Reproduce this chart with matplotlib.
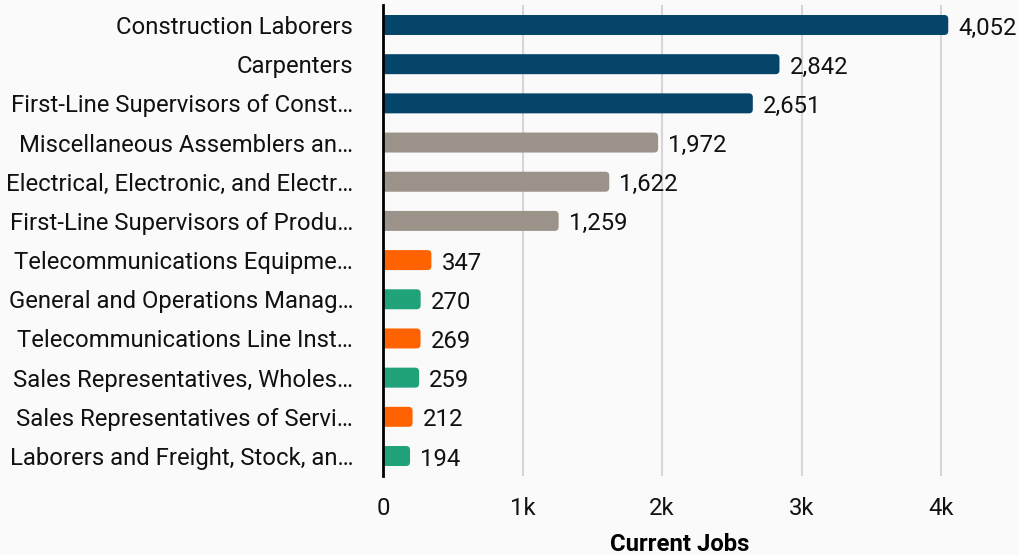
import matplotlib
matplotlib.use("Agg")
import matplotlib.pyplot as plt
from matplotlib.patches import FancyBboxPatch
from matplotlib.transforms import ScaledTranslation

categories = [
    "Construction Laborers",
    "Carpenters",
    "First-Line Supervisors of Const…",
    "Miscellaneous Assemblers an…",
    "Electrical, Electronic, and Electr…",
    "First-Line Supervisors of Produ…",
    "Telecommunications Equipme…",
    "General and Operations Manag…",
    "Telecommunications Line Inst…",
    "Sales Representatives, Wholes…",
    "Sales Representatives of Servi…",
    "Laborers and Freight, Stock, an…",
]
values = [4052, 2842, 2651, 1972, 1622, 1259, 347, 270, 269, 259, 212, 194]
groups = ["a", "a", "a", "b", "b", "b", "c", "d", "c", "d", "c", "d"]
palette = {"a": "#05456A", "b": "#9B928A", "c": "#FF6200", "d": "#20A27A"}
xticks = [0, 1000, 2000, 3000, 4000]
xticklabels = ["0", "1k", "2k", "3k", "4k"]

plt.rcParams["font.family"] = ["Roboto", "DejaVu Sans"]
bg = "#FAFAFA"
fs = 17.2

W, H = 1018, 555
fig = plt.figure(figsize=(W / 100, H / 100), dpi=100, facecolor=bg)
left_px, right_px, top_px, bottom_px = 383, 977, 5.4, 475.6
ax = fig.add_axes([left_px / W, 1 - bottom_px / H,
                   (right_px - left_px) / W, (bottom_px - top_px) / H])
ax.set_facecolor(bg)

px_per_k = 139.5
xmax = (right_px - left_px) / px_per_k * 1000
ax.set_xlim(0, xmax)
n = len(categories)
ax.set_ylim(n - 0.5, -0.5)

# pixel-to-data conversions for rounded bar ends
x_per_px = 1000 / px_per_k
y_per_px = n / (bottom_px - top_px)
r_px = 4
r_data = r_px * x_per_px
bar_h = 0.51

down = ScaledTranslation(0, -3 / 100, fig.dpi_scale_trans)

for i, (v, g) in enumerate(zip(values, groups)):
    patch = FancyBboxPatch(
        (-r_data * 2, i - bar_h / 2), v + r_data * 2, bar_h,
        boxstyle=f"round,pad=0,rounding_size={r_data}",
        mutation_aspect=y_per_px / x_per_px,
        facecolor=palette[g], edgecolor="none", zorder=3, clip_on=True,
    )
    ax.add_patch(patch)
    ax.text(v + 10 * x_per_px, i, f"{v:,}", va="center", ha="left",
            fontsize=fs, color="#111111", zorder=4, clip_on=False,
            transform=ax.transData + down)

ax.set_yticks(range(n))
ax.set_yticklabels(categories, fontsize=fs, color="#111111")
for lab in ax.get_yticklabels():
    lab.set_transform(lab.get_transform() + down)
ax.set_xticks(xticks)
ax.set_xticklabels(xticklabels, fontsize=fs, color="#111111")
ax.tick_params(axis="y", length=0, pad=21.5)
ax.tick_params(axis="x", length=0, pad=15.5)
ax.set_xlabel("Current Jobs", fontsize=fs, fontweight="bold", labelpad=9)

ax.grid(axis="x", color="#D6D6D6", linewidth=1.5, zorder=0)
ax.set_axisbelow(True)
for s in ["top", "right", "bottom"]:
    ax.spines[s].set_visible(False)
ax.spines["left"].set_color("black")
ax.spines["left"].set_linewidth(2)
ax.spines["left"].set_zorder(5)

fig.savefig("out.png", dpi=100, facecolor=bg)
